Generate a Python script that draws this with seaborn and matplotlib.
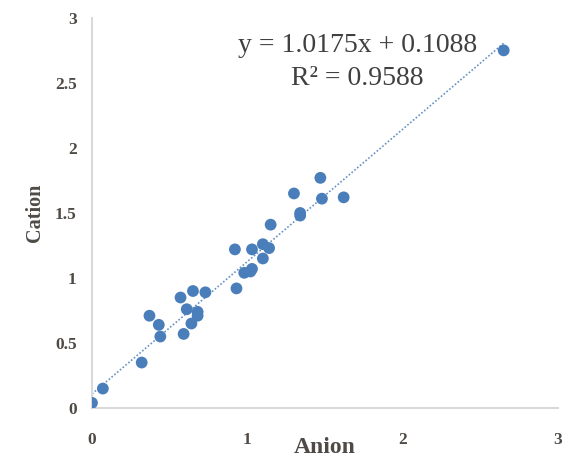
import numpy as np
import pandas as pd
import matplotlib
matplotlib.use("Agg")
import matplotlib.pyplot as plt
import seaborn as sns

# values
anion = [0.00, 0.07, 0.32, 0.37, 0.43, 0.44, 0.57, 0.59, 0.61, 0.64, 0.65,
         0.68, 0.68, 0.73, 0.92, 0.93, 0.98, 1.02, 1.03, 1.03, 1.10, 1.10,
         1.14, 1.15, 1.30, 1.34, 1.34, 1.47, 1.48, 1.62, 2.65]
cation = [0.04, 0.15, 0.35, 0.71, 0.64, 0.55, 0.85, 0.57, 0.76, 0.65, 0.90,
          0.74, 0.71, 0.89, 1.22, 0.92, 1.04, 1.05, 1.07, 1.22, 1.15, 1.26,
          1.23, 1.41, 1.65, 1.50, 1.48, 1.77, 1.61, 1.62, 2.75]
slope = 1.0175
intercept = 0.1088
r2 = 0.9588
ticks_x = [0, 1, 2, 3]
ticks_y = [0, 0.5, 1, 1.5, 2, 2.5, 3]
tick_labels_y = ["0", "0.5", "1", "1.5", "2", "2.5", "3"]

df = pd.DataFrame({"Anion": anion, "Cation": cation})

sns.set_style("white")
plt.rcParams["font.family"] = ["Liberation Serif", "DejaVu Serif"]

blue = "#4A7EBB"
text_col = "#4f4a45"

fig = plt.figure(figsize=(5.66, 4.58), dpi=100)
ax = fig.add_axes([0.1625, 0.109, 0.8235, 0.852])

sns.scatterplot(data=df, x="Anion", y="Cation", ax=ax, color=blue,
                s=72, edgecolor="none", zorder=3)

# linear trendline as printed on the chart
xs = np.array([0, max(anion)])
ax.plot(xs, slope * xs + intercept, color=blue, lw=1.2, ls=(0, (1, 1.2)),
        alpha=0.85, zorder=2)

ax.set_xlim(0, 3)
ax.set_ylim(0, 3)
ax.set_xticks(ticks_x)
ax.set_yticks(ticks_y)
ax.set_yticklabels(tick_labels_y)
ax.tick_params(axis="x", length=0, pad=17, labelsize=12.5, labelcolor=text_col)
ax.tick_params(axis="y", length=0, pad=11, labelsize=12.5, labelcolor=text_col)
for lab in ax.get_xticklabels() + ax.get_yticklabels():
    lab.set_fontweight("bold")

for side in ["top", "right"]:
    ax.spines[side].set_visible(False)
for side in ["left", "bottom"]:
    ax.spines[side].set_color("#d9d9d9")
    ax.spines[side].set_linewidth(1.5)

ax.set_xlabel("Anion", fontsize=17, fontweight="bold", color=text_col, labelpad=-8)
ax.set_ylabel("Cation", fontsize=14.5, fontweight="bold", color=text_col, labelpad=7)

ax.text(1.71, 2.79, f"y = {slope}x + {intercept}", fontsize=20, color="#404040",
        ha="center", va="center")
ax.text(1.71, 2.53, f"R² = {r2}", fontsize=20, color="#404040",
        ha="center", va="center")

fig.savefig("out.png", dpi=100)
